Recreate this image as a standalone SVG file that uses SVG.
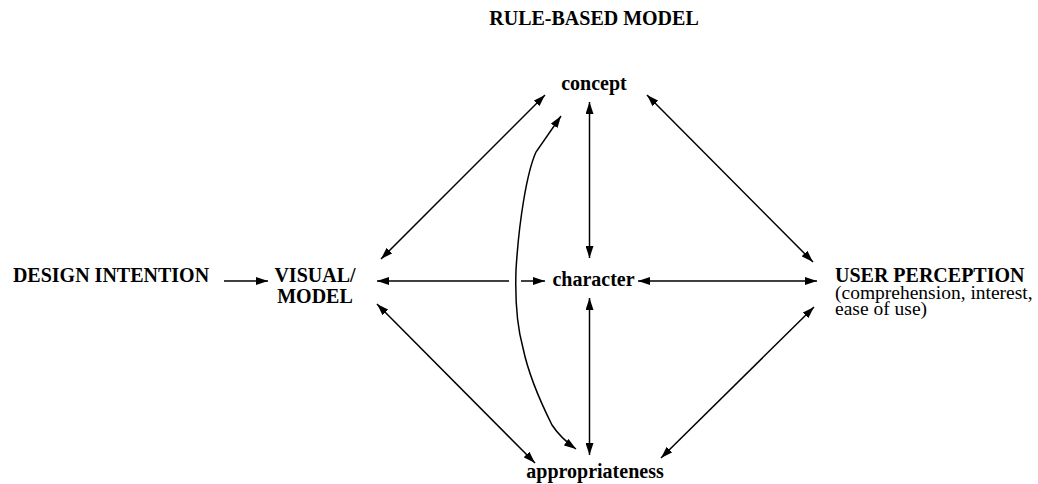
<svg xmlns="http://www.w3.org/2000/svg" width="1038" height="484" viewBox="0 0 1038 484">
<style>
text{font-family:"Liberation Serif","Times New Roman",serif;font-size:20px;fill:#000}
.b{font-weight:bold}
.c{text-anchor:middle}
.s{font-size:19.5px}
.ln{fill:none;stroke:#000;stroke-width:1.5}
</style>
<defs>
<marker id="ah" markerUnits="userSpaceOnUse" markerWidth="12" markerHeight="8" refX="12" refY="4" orient="auto-start-reverse">
<path d="M0,0 L12,4 L0,8 z" fill="#000"/>
</marker>
</defs>
<g id="title"><text class="b c" x="594" y="25">RULE-BASED MODEL</text></g>
<g id="design-intention"><text class="b c" x="111" y="282">DESIGN INTENTION</text></g>
<g id="visual-model"><text class="b c" x="315" y="282">VISUAL/</text><text class="b c" x="315" y="303">MODEL</text></g>
<g id="concept"><text class="b c" x="594" y="90">concept</text></g>
<g id="character"><text class="b c" x="593.5" y="286">character</text></g>
<g id="appropriateness"><text class="b c" x="595" y="478">appropriateness</text></g>
<g id="user-perception"><text class="b" x="835" y="282">USER PERCEPTION</text><text class="s" x="835" y="298.5">(comprehension, interest,</text><text class="s" x="835" y="315">ease of use)</text></g>
<g id="connectors">
<path class="ln" marker-end="url(#ah)" d="M224,281 L268,281"/>
<path class="ln" marker-start="url(#ah)" d="M377,281 L509,281"/>
<path class="ln" marker-end="url(#ah)" d="M521,281 L545,281"/>
<path class="ln" marker-start="url(#ah)" marker-end="url(#ah)" d="M638,281 L817,281"/>
<path class="ln" marker-start="url(#ah)" marker-end="url(#ah)" d="M545,95 L381,259"/>
<path class="ln" marker-start="url(#ah)" marker-end="url(#ah)" d="M647,95 L813,262"/>
<path class="ln" marker-start="url(#ah)" marker-end="url(#ah)" d="M377,304 L535,463"/>
<path class="ln" marker-start="url(#ah)" marker-end="url(#ah)" d="M661,458 L814,307"/>
<path class="ln" marker-start="url(#ah)" marker-end="url(#ah)" d="M589.5,102 L589.5,258"/>
<path class="ln" marker-start="url(#ah)" marker-end="url(#ah)" d="M589.5,298 L589.5,455"/>
<path class="ln" marker-start="url(#ah)" marker-end="url(#ah)" d="M561,116 L536,152 C527,172 519,220 516,270 C515,300 518,330 523,348 C528,372 538,397 552,425 C558,434 566,442 576,449"/>
</g>
</svg>
